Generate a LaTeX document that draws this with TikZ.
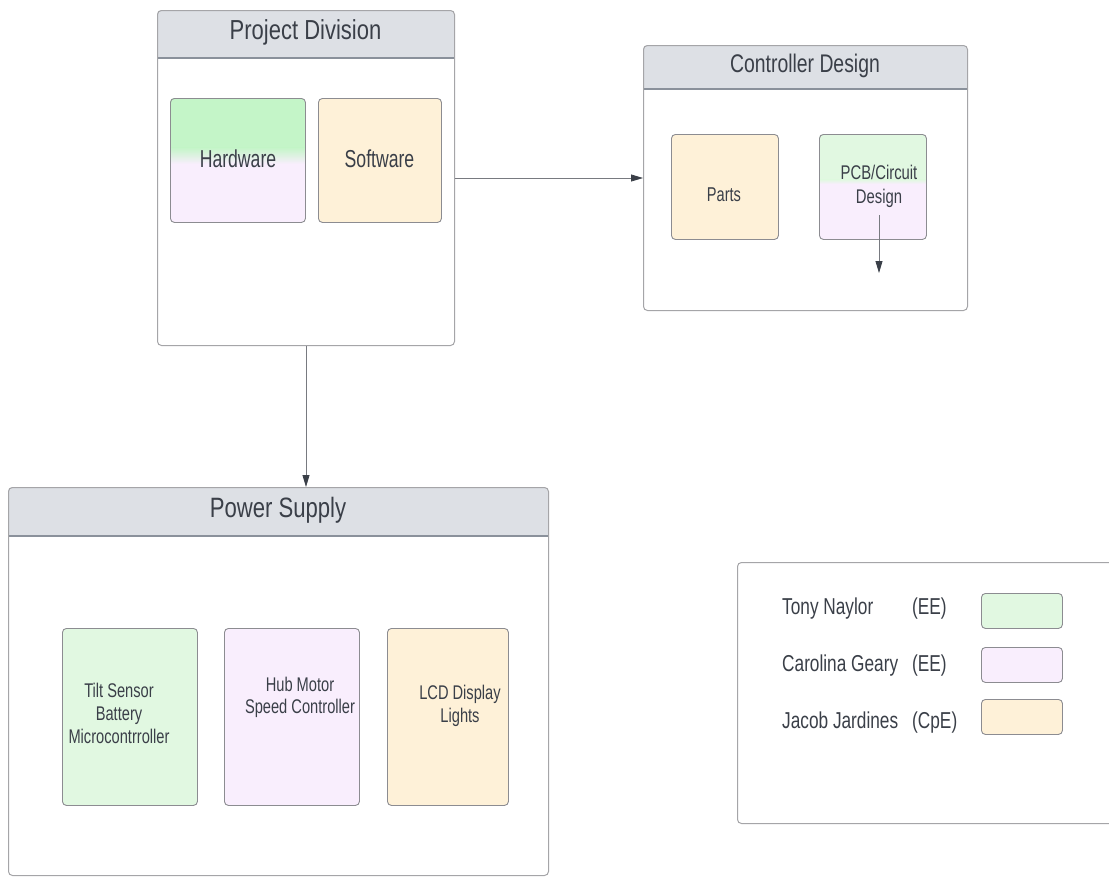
\documentclass[tikz,border=0pt]{standalone}
\usepackage{fontspec}
\usepackage{graphicx}
\setmainfont{Liberation Sans}
\usetikzlibrary{arrows.meta}
\definecolor{hdr}{RGB}{221,224,229}
\definecolor{hdrline}{RGB}{138,145,155}
\definecolor{frameline}{RGB}{165,165,168}
\definecolor{boxline}{RGB}{140,140,145}
\definecolor{hwgreen}{RGB}{196,245,200}
\definecolor{ltgreen}{RGB}{225,248,225}
\definecolor{ltpink}{RGB}{249,238,253}
\definecolor{ltorange}{RGB}{254,241,216}
\definecolor{txt}{RGB}{58,63,72}
\definecolor{arrline}{RGB}{120,122,128}
\newcommand{\nt}[2][0.74]{\scalebox{#1}[1]{#2}}
\newcommand{\fs}[2]{\fontsize{#1}{#2}\selectfont}
\begin{document}
\begin{tikzpicture}[x=1pt,y=-1pt,
  frame/.style={draw=frameline, line width=1pt, rounded corners=4pt, anchor=north west, inner sep=0pt},
  box/.style={draw=boxline, line width=0.9pt, rounded corners=4pt, anchor=north west, inner sep=0pt},
  lbl/.style={text=txt, inner sep=0pt},
  hline/.style={draw=hdrline, line width=1.3pt},
  arr/.style={draw=arrline, line width=0.8pt, -{Triangle[length=12pt,width=7pt,color=txt]}}
]
\useasboundingbox (0,0) rectangle (1109,876);
\fill[white] (0,0) rectangle (1109,876);

% ---------- background fills (headers, gradients) ----------
\begin{scope}
\clip[rounded corners=4pt] (157,10) rectangle (454,345);
\fill[hdr] (157,10) rectangle (454,58);
\end{scope}
\draw[hline] (157,58) -- (454,58);

\begin{scope}
\clip[rounded corners=4pt] (643,45) rectangle (967,310);
\fill[hdr] (643,45) rectangle (967,89);
\end{scope}
\draw[hline] (643,89) -- (967,89);

\begin{scope}
\clip[rounded corners=4pt] (8,487) rectangle (548,875);
\fill[hdr] (8,487) rectangle (548,536);
\end{scope}
\draw[hline] (8,536) -- (548,536);

\begin{scope}
\clip[rounded corners=4pt] (170,98) rectangle (305,222);
\fill[ltpink] (170,98) rectangle (305,222);
\fill[hwgreen] (170,98) rectangle (305,148);
\shade[top color=hwgreen, bottom color=ltpink] (170,147.5) rectangle (305,164);
\end{scope}

\begin{scope}
\clip[rounded corners=4pt] (819,134) rectangle (926,239);
\fill[ltpink] (819,134) rectangle (926,239);
\fill[ltgreen] (819,134) rectangle (926,180);
\shade[top color=ltgreen, bottom color=ltpink] (819,179.5) rectangle (926,184);
\end{scope}

% ---------- Project Division ----------
\node[frame, minimum width=297pt, minimum height=335pt] (pd) at (157,10) {};
\node[lbl, anchor=base, font=\fs{27.5}{31}] (pdt) at (305.5,39) {\nt[0.80]{Project Division}};

\node[box, minimum width=135pt, minimum height=124pt] (hw) at (170,98) {};
\node[lbl, anchor=base, font=\fs{24.5}{28}] (hwt) at (238,167) {\nt[0.72]{Hardware}};

\node[box, fill=ltorange, minimum width=123pt, minimum height=124pt] (sw) at (318,98) {};
\node[lbl, anchor=base, font=\fs{24.5}{28}] (swt) at (379.5,167) {\nt[0.72]{Software}};

% ---------- Controller Design ----------
\node[frame, minimum width=324pt, minimum height=265pt] (cd) at (643,45) {};
\node[lbl, anchor=base, font=\fs{25.5}{29}] (cdt) at (805,72) {\nt[0.76]{Controller Design}};

\node[box, fill=ltorange, minimum width=107pt, minimum height=105pt] (parts) at (671,134) {};
\node[lbl, anchor=base, font=\fs{20}{24}] (partst) at (724,201) {\nt[0.73]{Parts}};

\node[box, minimum width=107pt, minimum height=105pt] (pcb) at (819,134) {};
\node[lbl, anchor=north, align=center, font=\fs{19.8}{24}] (pcbt) at (879,164.5)
  {\nt[0.75]{PCB/Circuit}\\\nt[0.75]{Design}};
\coordinate (pcbA) at (879,215);
\coordinate (pcbB) at (879,273);
\draw[arr] (pcbA) -- (pcbB);

% ---------- Power Supply ----------
\node[frame, minimum width=540pt, minimum height=388pt] (ps) at (8,487) {};
\node[lbl, anchor=base, font=\fs{28}{32}] (pst) at (278,517) {\nt[0.79]{Power Supply}};

\node[box, fill=ltgreen, minimum width=135pt, minimum height=177pt] (tilt) at (62,628) {};
\node[lbl, anchor=north, align=center, font=\fs{19.8}{23}] (tiltt) at (119,682.5)
  {\nt{Tilt Sensor}\\\nt{Battery}\\\nt{Microcontrroller}};

\node[box, fill=ltpink, minimum width=135pt, minimum height=177pt] (hub) at (224,628) {};
\node[lbl, anchor=north, align=center, font=\fs{19.8}{22}] (hubt) at (300,676.5)
  {\nt{Hub Motor}\\\nt{Speed Controller}};

\node[box, fill=ltorange, minimum width=121pt, minimum height=177pt] (lcd) at (387,628) {};
\node[lbl, anchor=north, align=center, font=\fs{19.8}{23}] (lcdt) at (460,684.5)
  {\nt{LCD Display}\\\nt{Lights}};

% ---------- Legend ----------
\begin{scope}
\clip (0,0) rectangle (1109,876);
\node[frame, minimum width=400pt, minimum height=261pt] (leg) at (737,562) {};
\end{scope}
\node[lbl, anchor=base west, font=\fs{23}{27}] (n1) at (782,614) {\nt[0.75]{Tony Naylor}};
\node[lbl, anchor=base west, font=\fs{23}{27}] (r1) at (912,614) {\nt[0.75]{(EE)}};
\node[lbl, anchor=base west, font=\fs{23}{27}] (n2) at (782,671) {\nt[0.75]{Carolina Geary}};
\node[lbl, anchor=base west, font=\fs{23}{27}] (r2) at (912,671) {\nt[0.75]{(EE)}};
\node[lbl, anchor=base west, font=\fs{23}{27}] (n3) at (782,728) {\nt[0.75]{Jacob Jardines}};
\node[lbl, anchor=base west, font=\fs{23}{27}] (r3) at (912,728) {\nt[0.75]{(CpE)}};
\node[box, fill=ltgreen, minimum width=81pt, minimum height=35pt] (s1) at (981,593) {};
\node[box, fill=ltpink, minimum width=81pt, minimum height=35pt] (s2) at (981,647) {};
\node[box, fill=ltorange, minimum width=81pt, minimum height=35pt] (s3) at (981,699) {};

% ---------- connectors ----------
\draw[arr] (pd.east) -- (pd.east -| cd.west);
\draw[arr] (pd.south) -- (pd.south |- ps.north);
\end{tikzpicture}
\end{document}
